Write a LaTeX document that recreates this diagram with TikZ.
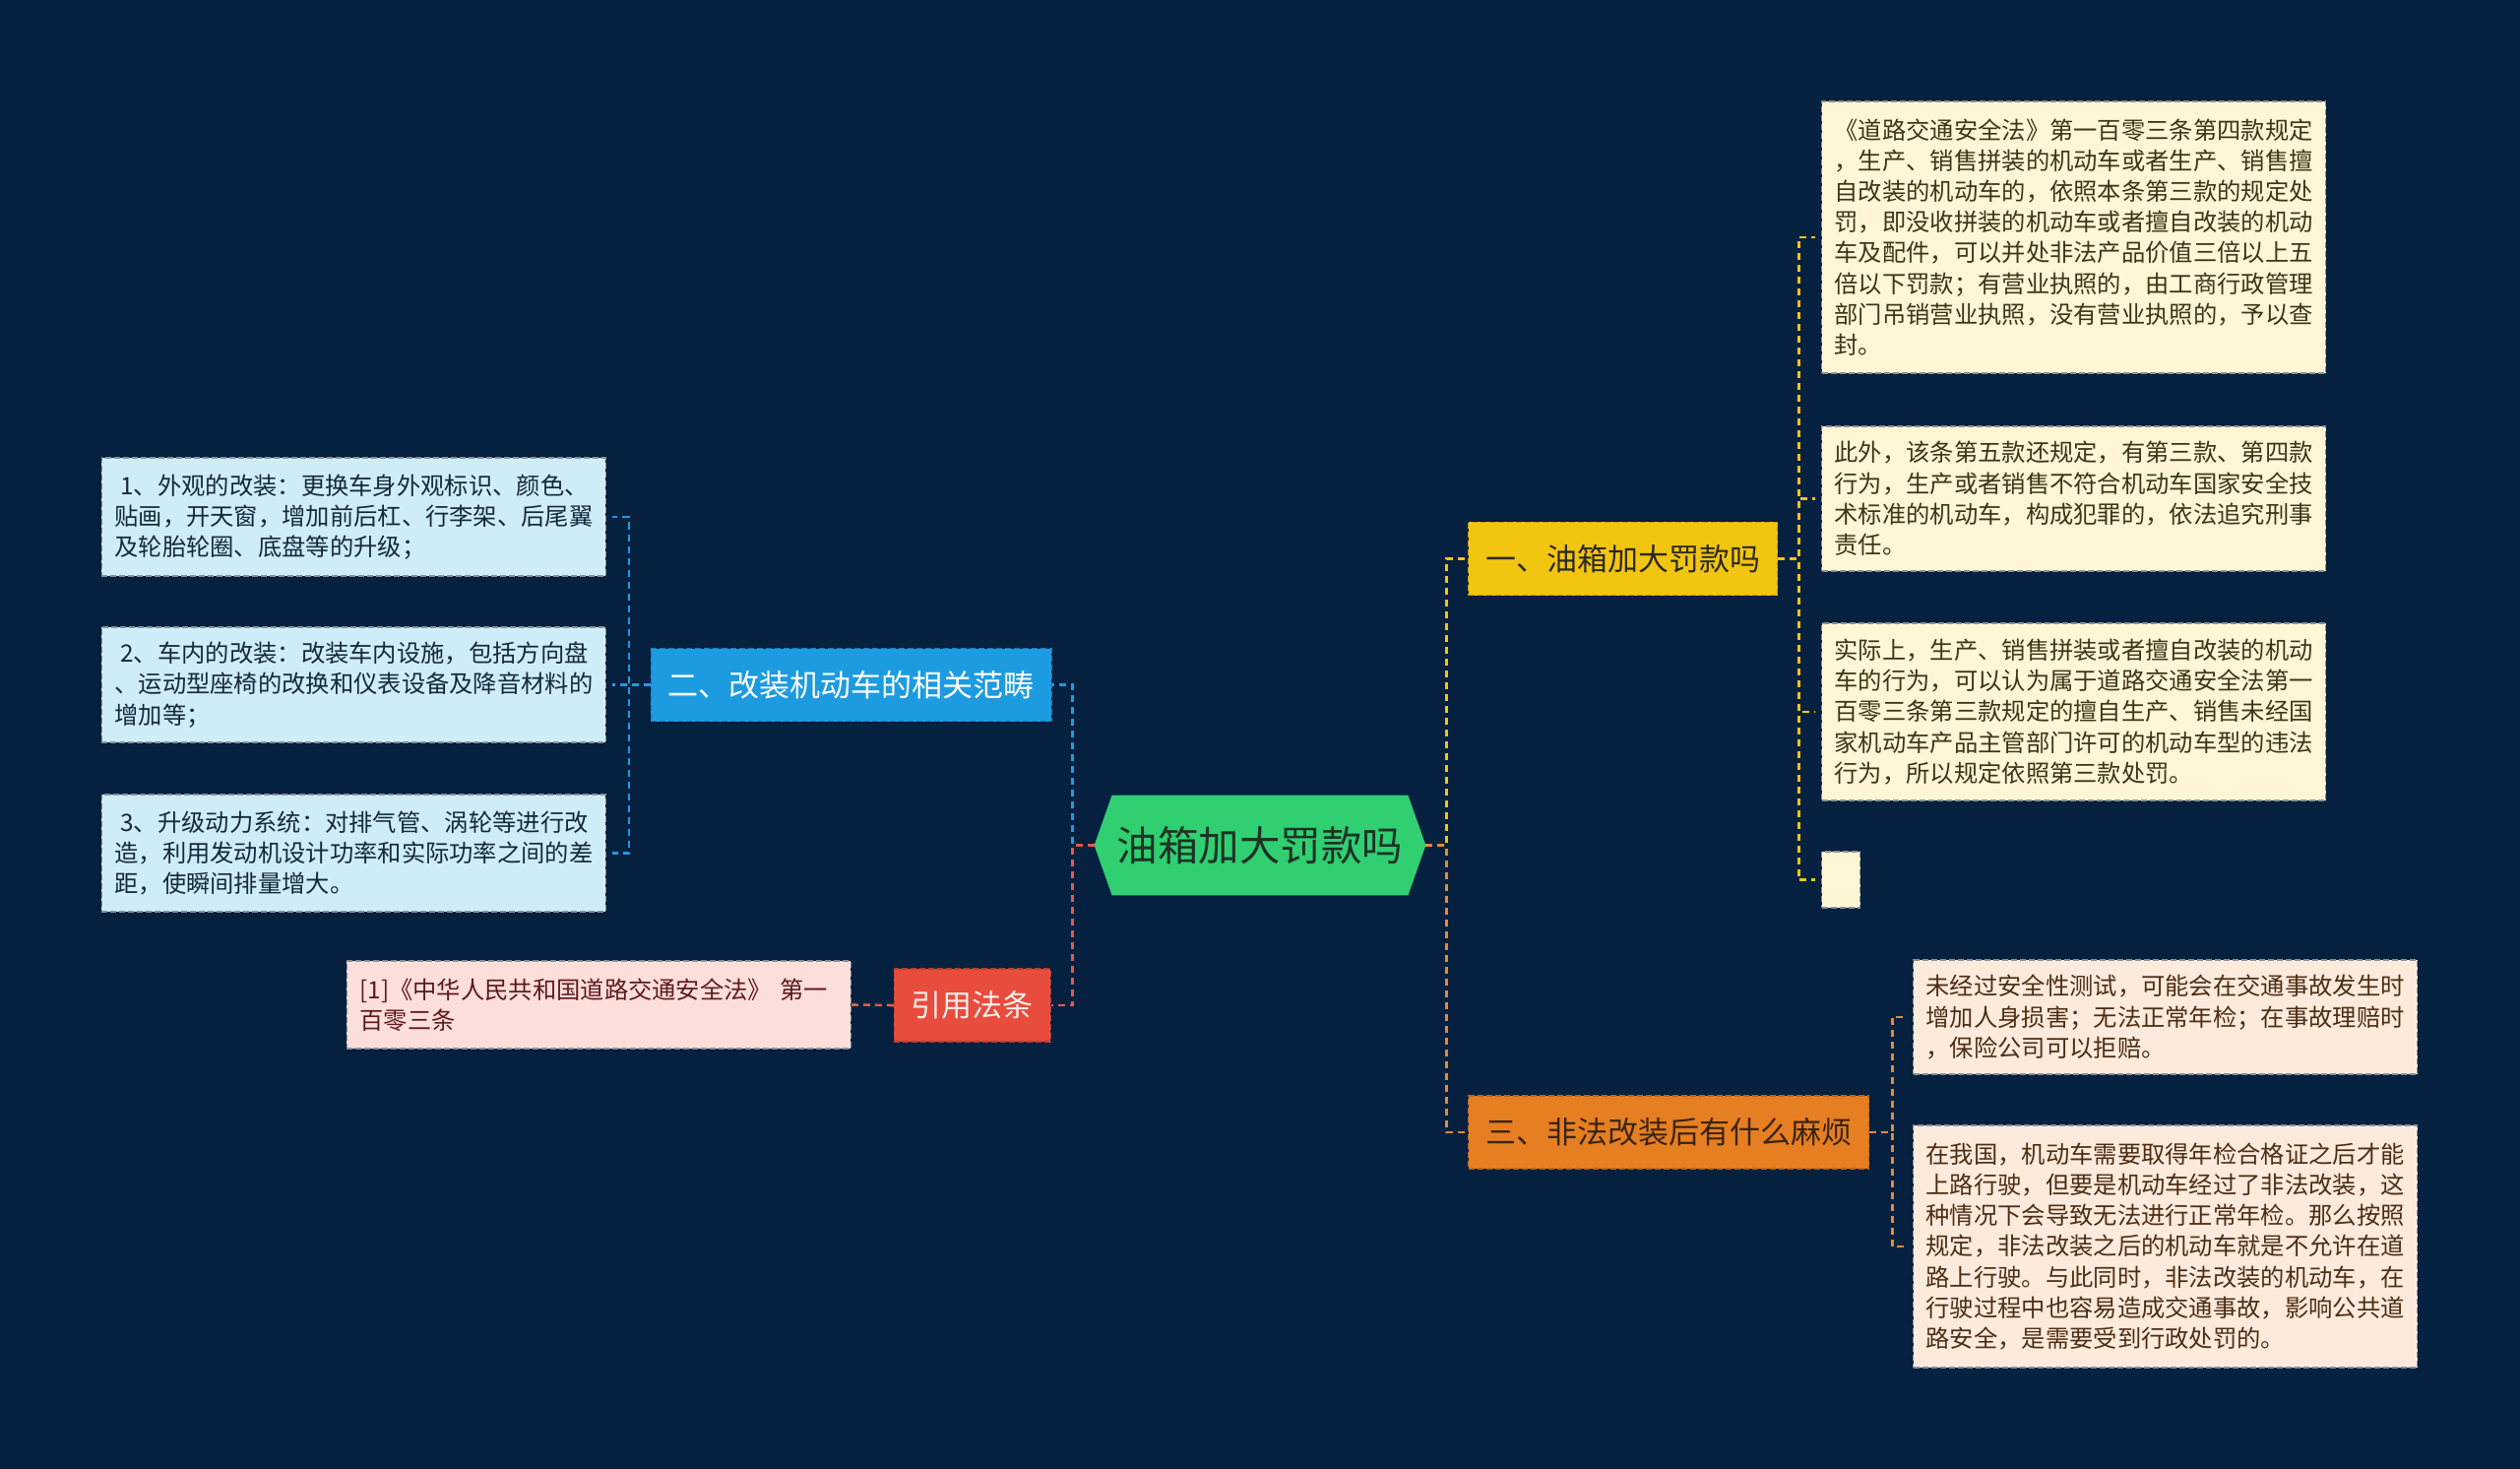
\documentclass[tikz,border=0pt]{standalone}
\usepackage{fontspec}
\setmainfont{Noto Sans CJK SC}
\usetikzlibrary{backgrounds}
\definecolor{bgnavy}{HTML}{05213F}
\definecolor{rootfill}{HTML}{2FCF72}
\definecolor{roottxt}{HTML}{1C3324}
\definecolor{ybr}{HTML}{F2C511}
\definecolor{ybrtxt}{HTML}{2B2A20}
\definecolor{obr}{HTML}{E67E22}
\definecolor{obrtxt}{HTML}{3A2410}
\definecolor{bbr}{HTML}{1D9BE0}
\definecolor{rbr}{HTML}{E84C3D}
\definecolor{rbrtxt}{HTML}{FFEDEA}
\definecolor{yleaf}{HTML}{FFF6D6}
\definecolor{yleaftxt}{HTML}{3D3514}
\definecolor{oleaf}{HTML}{FCEADC}
\definecolor{oleaftxt}{HTML}{4D2D14}
\definecolor{bleaf}{HTML}{CFECF9}
\definecolor{bleaftxt}{HTML}{14293B}
\definecolor{rleaf}{HTML}{FCDEDB}
\definecolor{rleaftxt}{HTML}{5E1A1A}
\definecolor{leafedge}{HTML}{8A8F94}
\definecolor{ylink}{HTML}{F2C511}
\definecolor{olink}{HTML}{E5893A}
\definecolor{blink}{HTML}{1F9BE0}
\definecolor{rlink}{HTML}{E25A4C}
\begin{document}
\begin{tikzpicture}[x=0.5pt,y=-0.5pt,
    rootnode/.style={minimum width=168pt,minimum height=50.5pt,inner sep=0pt,text=roottxt,font=\fontsize{20.75pt}{24pt}\selectfont},
    branch/.style 2 args={fill=#1,draw=#1!80!black,dash pattern=on 3pt off 1.5pt,line width=0.6pt,text=#2,minimum height=37pt,inner xsep=8.75pt,inner ysep=0pt,font=\fontsize{15.5pt}{18pt}\selectfont},
    leaf/.style={fill=#1,draw=leafedge,dash pattern=on 3pt off 1.5pt,line width=0.6pt},
    leaftext/.style 2 args={leaf=#1,text=#2,text width=243pt,inner xsep=6.5pt,inner ysep=0pt,align=left,font=\fontsize{12.15pt}{15.6pt}\selectfont},
    wire/.style={draw=#1,line width=1.3pt,dash pattern=on 3.5pt off 2.5pt}]
  \begin{scope}[on background layer]
    \fill[bgnavy] (0,0) rectangle (2560,1492);
  \end{scope}
  \node[rootnode] (root) at (1280,858.5) {油箱加大罚款吗};
  \begin{scope}[on background layer]
    \fill[rootfill] ([xshift=9pt]root.north west) -- ([xshift=-9pt]root.north east) -- (root.east)
      -- ([xshift=-9pt]root.south east) -- ([xshift=9pt]root.south west) -- (root.west) -- cycle;
  \end{scope}

  \node[branch={ybr}{ybrtxt},anchor=west] (fine) at (1491,567.5) {一、油箱加大罚款吗};
  \node[branch={obr}{obrtxt},anchor=west] (trouble) at (1491,1150) {三、非法改装后有什么麻烦};
  \node[branch={bbr}{white},anchor=east] (range) at (1069,695.5) {二、改装机动车的相关范畴};
  \node[branch={rbr}{rbrtxt},anchor=east] (law) at (1068,1021) {引用法条};

  \node[leaftext={yleaf}{yleaftxt},anchor=west,minimum height=138pt] (fine1) at (1850,241)
    {《道路交通安全法》第一百零三条第四款规定\\，生产、销售拼装的机动车或者生产、销售擅\\自改装的机动车的，依照本条第三款的规定处\\罚，即没收拼装的机动车或者擅自改装的机动\\车及配件，可以并处非法产品价值三倍以上五\\倍以下罚款；有营业执照的，由工商行政管理\\部门吊销营业执照，没有营业执照的，予以查\\封。};
  \node[leaftext={yleaf}{yleaftxt},anchor=west,minimum height=73.5pt] (fine2) at (1850,506.5)
    {此外，该条第五款还规定，有第三款、第四款\\行为，生产或者销售不符合机动车国家安全技\\术标准的机动车，构成犯罪的，依法追究刑事\\责任。};
  \node[leaftext={yleaf}{yleaftxt},anchor=west,minimum height=90pt] (fine3) at (1850,723)
    {实际上，生产、销售拼装或者擅自改装的机动\\车的行为，可以认为属于道路交通安全法第一\\百零三条第三款规定的擅自生产、销售未经国\\家机动车产品主管部门许可的机动车型的违法\\行为，所以规定依照第三款处罚。};
  \node[leaf=yleaf,anchor=west,minimum width=19.5pt,minimum height=28.5pt,inner sep=0pt] (fine4) at (1850,893.5) {};
  \node[leaftext={oleaf}{oleaftxt},anchor=west,minimum height=58pt] (trouble1) at (1943,1033)
    {未经过安全性测试，可能会在交通事故发生时\\增加人身损害；无法正常年检；在事故理赔时\\，保险公司可以拒赔。};
  \node[leaftext={oleaf}{oleaftxt},anchor=west,minimum height=123pt] (trouble2) at (1943,1266)
    {在我国，机动车需要取得年检合格证之后才能\\上路行驶，但要是机动车经过了非法改装，这\\种情况下会导致无法进行正常年检。那么按照\\规定，非法改装之后的机动车就是不允许在道\\路上行驶。与此同时，非法改装的机动车，在\\行驶过程中也容易造成交通事故，影响公共道\\路安全，是需要受到行政处罚的。};
  \node[leaftext={bleaf}{bleaftxt},anchor=east,minimum height=60pt] (range1) at (616,525)
    {\hspace{0.25em}1、外观的改装：更换车身外观标识、颜色、\\贴画，开天窗，增加前后杠、行李架、后尾翼\\及轮胎轮圈、底盘等的升级；};
  \node[leaftext={bleaf}{bleaftxt},anchor=east,minimum height=58.5pt] (range2) at (616,695.5)
    {\hspace{0.25em}2、车内的改装：改装车内设施，包括方向盘\\、运动型座椅的改换和仪表设备及降音材料的\\增加等；};
  \node[leaftext={bleaf}{bleaftxt},anchor=east,minimum height=59.5pt] (range3) at (616,866.5)
    {\hspace{0.25em}3、升级动力系统：对排气管、涡轮等进行改\\造，利用发动机设计功率和实际功率之间的差\\距，使瞬间排量增大。};
  \node[leaftext={rleaf}{rleaftxt},anchor=east,minimum height=44.5pt] (law1) at (865,1020.5)
    {[1]《中华人民共和国道路交通安全法》 第一\\百零三条};

  \draw[wire=ylink] (root.east) -- ++(21,0) |- (fine.west);
  \draw[wire=olink] (root.east) -- ++(21,0) |- (trouble.west);
  \draw[wire=blink] (root.west) -- ++(-22,0) |- (range.east);
  \draw[wire=rlink] (root.west) -- ++(-22,0) |- (law.east);
  \foreach \n in {fine1,fine2,fine3,fine4}
    \draw[wire=ylink,shorten >=3pt] (fine.east) -- ++(21,0) |- (\n.west);
  \foreach \n in {trouble1,trouble2}
    \draw[wire=olink,shorten >=3pt] (trouble.east) -- ++(23,0) |- (\n.west);
  \foreach \n in {range1,range2,range3}
    \draw[wire=blink,shorten >=3pt] (range.west) -- ++(-22,0) |- (\n.east);
  \draw[wire=rlink] (law.west) -- (law1.east);
\end{tikzpicture}
\end{document}
